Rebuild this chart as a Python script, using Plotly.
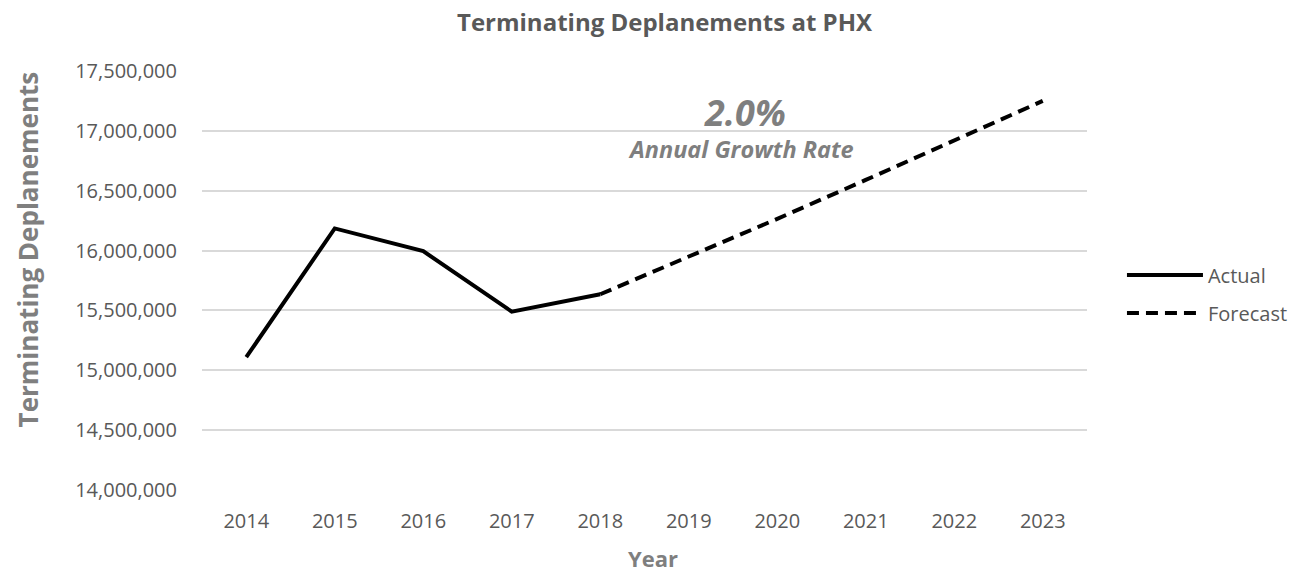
import plotly.graph_objects as go

# Terminating deplanements at PHX: actuals and forecast
years = ["2014", "2015", "2016", "2017", "2018", "2019", "2020", "2021", "2022", "2023"]
actual_years = ["2014", "2015", "2016", "2017", "2018"]
actual = [15_110_000, 16_185_000, 15_995_000, 15_490_000, 15_635_000]
forecast_years = ["2018", "2019", "2020", "2021", "2022", "2023"]
forecast = [15_635_000, 15_950_000, 16_265_000, 16_590_000, 16_920_000, 17_250_000]
y_ticks = [14_000_000, 14_500_000, 15_000_000, 15_500_000, 16_000_000,
           16_500_000, 17_000_000, 17_500_000]

FONT = "Open Sans"
DARK = "#595959"
MID = "#7f7f7f"

fig = go.Figure()
fig.add_trace(go.Scatter(
    x=actual_years, y=actual, mode="lines", name="Actual", legendgroup="actual",
    line=dict(color="black", width=4),
))
fig.add_trace(go.Scatter(
    x=forecast_years, y=forecast, mode="lines", name="Forecast", legendgroup="forecast",
    line=dict(color="black", width=4, dash="12px,7px"),
))

W, H = 1305, 573
L, R, T, B = 202, 1089, 71, 490

fig.update_layout(
    width=W, height=H,
    margin=dict(l=L, r=W - R, t=T, b=H - B, pad=0),
    paper_bgcolor="white", plot_bgcolor="white",
    font=dict(family=FONT, color=DARK, size=20),
    showlegend=True,
    legend=dict(
        x=1.0395, y=0.468, xanchor="left", yanchor="middle",
        font=dict(family=FONT, size=20, color=DARK),
        itemwidth=76, traceorder="grouped", tracegroupgap=9,
        bgcolor="rgba(0,0,0,0)",
    ),
    xaxis=dict(
        type="category", categoryorder="array", categoryarray=years,
        range=[-0.5, 9.5], showgrid=False, zeroline=False, showline=False,
        ticks="", tickfont=dict(family=FONT, size=20, color=DARK),
        ticklabelstandoff=17,
    ),
    yaxis=dict(
        range=[14_000_000, 17_500_000], tickvals=y_ticks,
        ticktext=[f"{v:,}" for v in y_ticks],
        showgrid=True, gridcolor="#d9d9d9", gridwidth=1.5,
        zeroline=False, showline=False, ticks="",
        tickfont=dict(family=FONT, size=20, color=DARK),
        ticklabelstandoff=24,
    ),
)

def px_x(px):
    return (px - L) / (R - L)

def px_y(py):
    return (B - py) / (B - T)

annotations = [
    dict(text="<b>Terminating Deplanements at PHX</b>", x=px_x(666), y=px_y(22),
         font=dict(family=FONT, size=24, color=DARK)),
    dict(text="<b>Terminating Deplanements</b>", x=px_x(28), y=px_y(249),
         textangle=-90, font=dict(family=FONT, size=26, color=MID)),
    dict(text="<b>Year</b>", x=px_x(654), y=px_y(558),
         font=dict(family=FONT, size=22, color=MID)),
    dict(text="<b><i>2.0%</i></b>", x=px_x(746), y=px_y(113),
         font=dict(family=FONT, size=36, color=MID)),
    dict(text="<b><i>Annual Growth Rate</i></b>", x=px_x(742), y=px_y(149),
         font=dict(family=FONT, size=23.5, color=MID)),
]
for a in annotations:
    a.update(xref="paper", yref="paper", showarrow=False,
             xanchor="center", yanchor="middle")
fig.update_layout(annotations=annotations)

fig.write_html("out.html")
